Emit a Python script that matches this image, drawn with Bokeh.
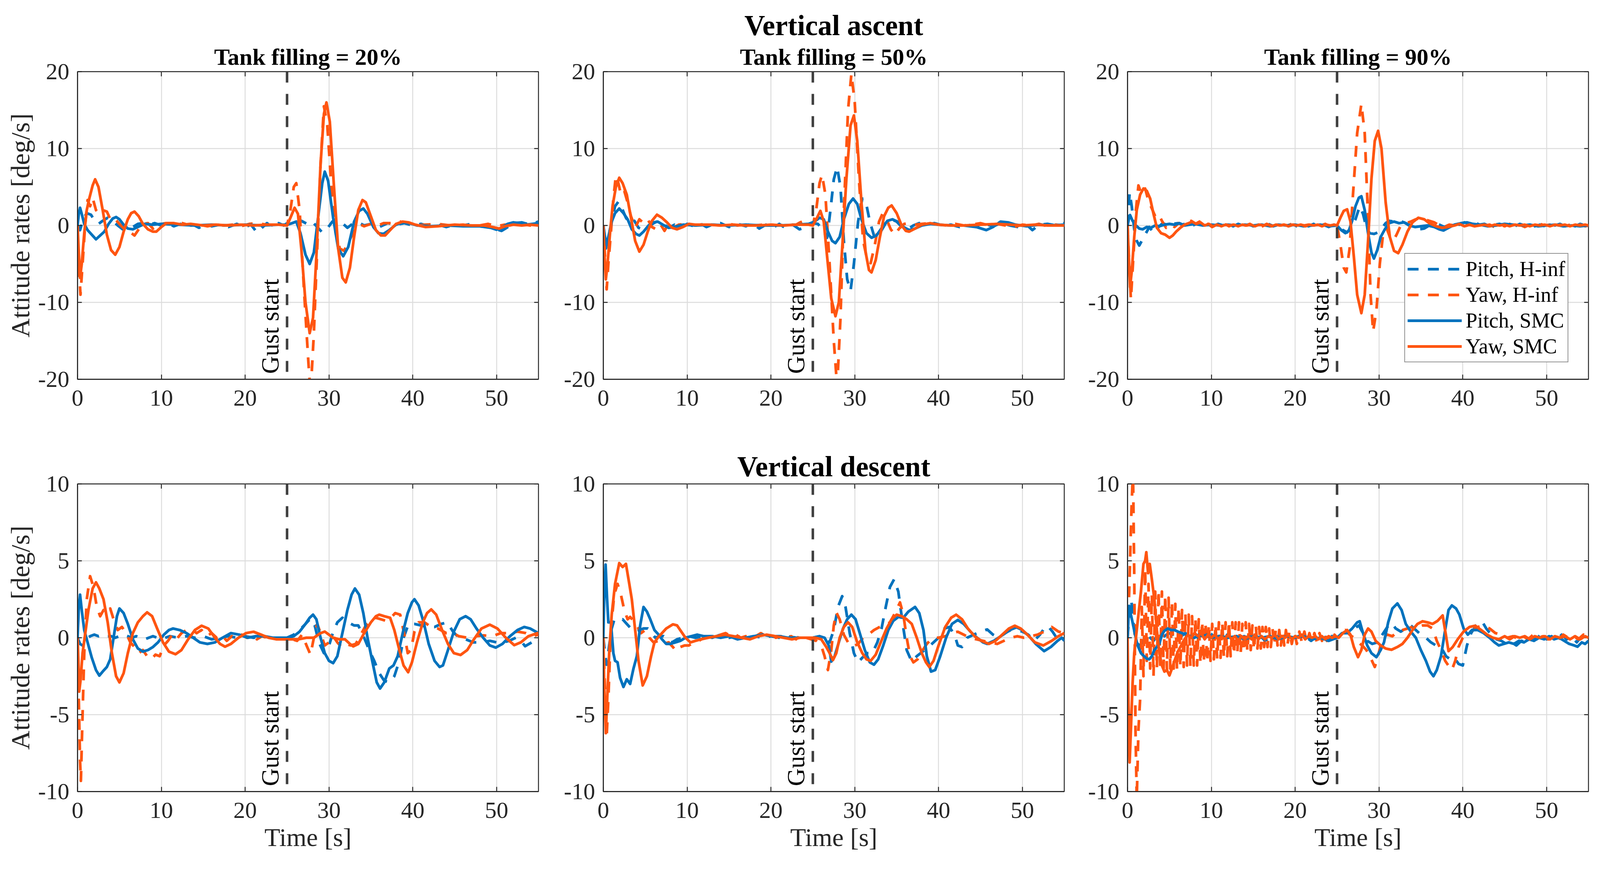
import math
from bokeh.plotting import figure
from bokeh.models import Range1d, FixedTicker, Span, Label, Title, Legend, LegendItem
from bokeh.layouts import row, column
from bokeh.embed import file_html
from bokeh.resources import INLINE

FONT = "Liberation Serif"
BLUE = "#0072BD"
ORANGE = "#FF5511"
INK = "#262626"

# ---------------- axes / labels ----------------
x_ticks = [0, 10, 20, 30, 40, 50]
x_tick_labels = ["0", "10", "20", "30", "40", "50"]
asc_y_ticks = [-20, -10, 0, 10, 20]
asc_y_tick_labels = ["-20", "-10", "0", "10", "20"]
desc_y_ticks = [-10, -5, 0, 5, 10]
desc_y_tick_labels = ["-10", "-5", "0", "5", "10"]
panel_titles = ["Tank filling = 20%", "Tank filling = 50%", "Tank filling = 90%"]
row_titles = ["Vertical ascent", "Vertical descent"]
series_names = ["Pitch, H-inf", "Yaw, H-inf", "Pitch, SMC", "Yaw, SMC"]
gust_time = 25
x_label = "Time [s]"
y_label = "Attitude rates [deg/s]"

# ---------------- data: (time [s], rate [deg/s]) ----------------
# Vertical ascent, 20 %
asc20_pitch_hinf = [(0,0),(0.3,-0.6),(0.7,0.9),(1.1,1.6),(1.6,1.4),(2.0,0.7),(2.5,0.2),(3.0,0.6),(3.6,1.0),(4.2,0.6),(4.8,0.0),(5.4,-0.5),(6.0,-0.5),(6.6,-0.2),(7.2,0.2),(7.8,0.3),(8.5,0.1),(9.2,0.3),(10,0.0),(10.8,0.2),(11.5,-0.1),(12.3,0.2),(13,-0.2),(13.8,0.1),(14.5,-0.3),(15.2,0.2),(16,-0.1),(17,0.1),(18,-0.2),(19,0.2),(20,-0.2),(20.7,0.1),(21.4,-0.9),(22,-0.3),(22.6,0.3),(23.2,-0.2),(24,0.3),(24.6,0.0),(25.3,0.5),(26,0.3),(26.7,0.6),(27.4,0.2),(28.0,0.5),(28.6,-0.2),(29.2,-0.9),(29.8,-0.4),(30.4,0.5),(31.0,0.8),(31.6,0.3),(32.2,-0.3),(32.8,0.2),(33.5,0.4),(34.2,0.0),(35,0.2),(36,-0.2),(37,0.3),(38,0.1),(39,0.3),(40,0.0),(41,0.2),(42,-0.1),(43,0.1),(44,-0.2),(45,0.1),(46,0.0),(47,0.2),(48,-0.1),(49,-0.2),(50,-0.5),(50.6,-0.7),(51.2,-0.3),(52,0.3),(53,0.4),(54,0.1),(55,0.5)]
asc20_yaw_hinf = [(0,0),(0.15,-5),(0.35,-9.0),(0.6,-5),(0.9,0),(1.2,3.3),(1.5,2.5),(1.8,3.6),(2.2,2.0),(2.6,1.5),(3.0,2.0),(3.5,1.8),(4.0,0.6),(4.5,0.8),(5.0,0.2),(5.6,-0.5),(6.2,-0.8),(6.8,-1.3),(7.3,-0.5),(7.8,0.2),(8.4,0.3),(9.0,-0.4),(9.6,0.1),(10.5,0.3),(11.5,0.1),(12.5,0.3),(13.5,0.0),(14.5,0.1),(15.5,-0.1),(16.5,0.1),(17.5,0.0),(18.5,0.1),(19.5,-0.1),(20.5,0.2),(21.5,0.3),(22.5,0.1),(23.5,0.0),(24.5,0.1),(25.0,0.0),(25.4,2.0),(25.8,5.0),(26.1,5.5),(26.5,2.0),(27.0,-8),(27.5,-17),(27.8,-22),(28.2,-14),(28.6,-3),(29.0,8),(29.4,15.5),(29.8,13),(30.3,5),(30.8,-1),(31.3,-3.0),(31.8,-3.3),(32.4,-2),(33.0,-0.8),(33.6,0.2),(34.2,-0.1),(35.0,0.2),(35.7,-0.1),(36.5,0.3),(37.5,0.3),(38.5,0.5),(39.5,0.3),(40.5,0.0),(41.5,0.1),(43,0.2),(44.5,0.0),(46,0.1),(47.5,-0.1),(49,0.2),(50,-0.1),(51,0.1),(52,0.0),(53,0.2),(54,0.0),(55,0.1)]
asc20_pitch_smc = [(0,0),(0.15,1.5),(0.3,2.3),(0.5,1.5),(0.8,0.2),(1.2,-0.6),(1.7,-1.2),(2.2,-1.8),(2.7,-1.3),(3.2,-0.8),(3.7,0.2),(4.2,0.9),(4.6,1.1),(5.0,0.8),(5.5,0.1),(6.0,-0.4),(6.6,-0.5),(7.2,-0.2),(8,0.2),(9,0.1),(10,0.2),(12,0.1),(14,0.0),(16,0.1),(18,0.0),(20,0.1),(22,0.0),(24,0.1),(25,0.1),(25.6,0.3),(26.1,0.5),(26.6,-1.0),(27.2,-3.8),(27.7,-5.0),(28.2,-3.5),(28.7,1.0),(29.2,5.5),(29.5,7.0),(29.9,5.8),(30.5,1.0),(31.1,-3.0),(31.7,-4.0),(32.3,-2.8),(33.0,0.5),(33.6,1.9),(34.1,2.2),(34.6,1.5),(35.3,-0.2),(35.9,-1.0),(36.5,-1.1),(37.2,-0.6),(38.0,0.1),(38.8,0.4),(39.6,0.3),(40.5,0.0),(42,-0.1),(44,0.0),(46,-0.1),(48,-0.1),(49.3,-0.3),(50.0,-0.55),(50.6,-0.3),(51.3,0.2),(52.0,0.4),(52.7,0.3),(53.5,0.1),(54.3,0.2),(55,0.3)]
asc20_yaw_smc = [(0,0),(0.15,-3.5),(0.3,-6.8),(0.5,-5),(0.8,-1),(1.1,2.0),(1.4,3.5),(1.8,5.2),(2.1,6.0),(2.5,5.0),(3.0,2.0),(3.5,-1.2),(4.0,-3.2),(4.5,-3.8),(5.0,-2.8),(5.5,-0.8),(6.0,0.8),(6.4,1.6),(6.8,1.8),(7.3,1.2),(7.8,0.2),(8.4,-0.5),(9.0,-0.8),(9.4,-0.8),(10,-0.2),(10.6,0.3),(11.5,0.3),(12.5,0.1),(13.5,0.2),(15,0.0),(16.5,0.1),(18,0.0),(19.5,0.1),(21,0.0),(22.5,0.1),(24,0.1),(25,0.0),(25.4,1.0),(25.9,2.3),(26.3,1.5),(26.7,-3.0),(27.2,-10),(27.7,-14.0),(28.1,-12),(28.5,-4),(29.0,8),(29.4,14.5),(29.7,16.0),(30.1,13.5),(30.6,5),(31.1,-3),(31.6,-6.8),(32.0,-7.4),(32.5,-5.5),(33.0,-1.5),(33.5,2.0),(34.0,3.3),(34.4,3.0),(35.0,1.2),(35.6,-0.6),(36.2,-1.3),(36.7,-1.3),(37.3,-0.6),(38.0,0.2),(38.8,0.5),(39.5,0.4),(40.3,0.1),(41.5,-0.2),(43,-0.1),(45,0.1),(47,0.0),(48.5,0.0),(49.5,-0.2),(50.3,-0.4),(51,-0.1),(52,0.1),(53,0.0),(54,0.1),(55,0.0)]

# Vertical ascent, 50 %
asc50_pitch_hinf = [(0,0),(0.3,-3.0),(0.6,-1.5),(1.0,0.5),(1.4,2.5),(1.8,3.1),(2.2,2.3),(2.7,1.0),(3.2,0.2),(3.7,0.6),(4.2,-0.3),(4.8,-0.6),(5.4,-0.2),(6.0,0.3),(6.6,0.6),(7.2,0.2),(7.8,-0.3),(8.5,0.1),(9.2,-0.3),(10,0.2),(10.8,-0.1),(11.5,0.3),(12.3,-0.2),(13,0.1),(14,0.3),(15,-0.2),(16,0.2),(17,-0.1),(17.8,0.3),(18.6,-0.4),(19.4,0.1),(20.2,-0.3),(21,0.2),(21.8,-0.4),(22.6,0.1),(23.4,-0.5),(24.2,-0.2),(25,0.3),(25.6,0.2),(26.2,-0.6),(26.7,-1.6),(27.1,2.0),(27.5,6.0),(27.9,7.6),(28.3,5.0),(28.7,-2.0),(29.1,-7.0),(29.5,-8.5),(29.9,-5.0),(30.4,0.5),(30.9,3.5),(31.3,3.2),(31.8,0.5),(32.4,-1.7),(33.0,-1.0),(33.7,0.3),(34.4,0.8),(35.0,0.5),(35.7,-0.3),(36.3,-0.5),(37.0,0.0),(37.7,0.3),(38.5,0.1),(39.5,0.3),(40.5,0.0),(41.5,0.1),(42.5,-0.2),(43.5,0.1),(44.5,-0.2),(45.5,0.2),(46.5,-0.1),(47.5,0.3),(48.5,0.0),(49.5,-0.2),(50.5,0.1),(51.2,-0.6),(52,0.1),(53,0.2),(54,0.0),(55,0.3)]
asc50_yaw_hinf = [(0,0),(0.2,-4),(0.4,-8.3),(0.6,-5),(0.9,-1),(1.2,3.5),(1.5,6.5),(1.8,5.5),(2.1,4.0),(2.5,4.5),(2.9,3.0),(3.3,1.2),(3.8,-0.3),(4.3,0.8),(4.8,0.3),(5.3,0.8),(5.8,-0.2),(6.3,-0.5),(6.8,0.2),(7.3,-0.7),(7.8,0.3),(8.3,-0.3),(9,0.1),(10,0.2),(11,0.0),(12,0.2),(13,0.1),(14,0.0),(15,0.2),(16,0.0),(17,0.1),(18,0.0),(19,0.1),(20,0.1),(21,0.0),(22,0.1),(23,0.1),(23.5,0.4),(24.0,0.6),(24.5,0.3),(25.0,0.0),(25.4,2.0),(25.8,5.5),(26.1,6.6),(26.5,4.0),(27.0,-5),(27.5,-15),(27.9,-21),(28.3,-12),(28.7,2),(29.2,15),(29.6,19.7),(30.0,16),(30.5,6),(31.0,-2),(31.5,-4.5),(31.9,-4.9),(32.4,-2.5),(32.9,0.5),(33.3,1.5),(33.8,0.8),(34.3,-0.5),(34.8,-1.2),(35.3,-0.4),(35.9,0.2),(36.5,0.3),(37.2,0.1),(38,0.2),(39,0.3),(40,0.1),(41,0.0),(42,0.2),(43,0.0),(44,0.1),(45,0.3),(46,0.0),(47,0.2),(48,0.0),(49,-0.2),(50,0.1),(51,0.0),(52,0.2),(53,-0.1),(54,0.1),(55,0.0)]
asc50_pitch_smc = [(0,0),(0.2,-1.5),(0.4,-2.5),(0.7,-1.0),(1.0,0.5),(1.4,1.6),(1.9,2.2),(2.4,1.6),(2.9,0.8),(3.4,-0.5),(3.9,-1.1),(4.3,-1.3),(4.8,-0.8),(5.4,0.0),(6.0,0.4),(6.5,0.5),(7.1,0.1),(7.8,-0.3),(8.5,-0.2),(9.5,0.1),(11,0.0),(13,0.1),(15,0.0),(17,0.1),(19,0.0),(21,0.0),(23,0.1),(24.5,0.2),(25.2,0.5),(25.8,1.0),(26.3,0.8),(26.8,-0.8),(27.3,-2.0),(27.7,-2.3),(28.2,-1.5),(28.7,0.8),(29.3,2.8),(29.8,3.5),(30.3,2.8),(30.8,0.8),(31.4,-1.0),(32.0,-1.6),(32.6,-1.3),(33.3,-0.2),(33.9,0.6),(34.5,0.8),(35.1,0.5),(35.8,-0.2),(36.5,-0.6),(37.2,-0.4),(38,0.0),(39,0.2),(40,0.1),(41.5,0.0),(43,0.0),(44.5,-0.2),(45.7,-0.6),(46.5,-0.2),(47.4,0.5),(48.3,0.4),(49.2,0.1),(50.5,-0.1),(52,0.1),(53.5,0.0),(55,0.1)]
asc50_yaw_smc = [(0,0),(0.15,-4),(0.3,-7.0),(0.5,-5),(0.8,-1),(1.1,2.5),(1.5,5.0),(1.9,6.2),(2.3,5.5),(2.8,4.0),(3.3,1.0),(3.8,-2.0),(4.3,-3.4),(4.8,-2.5),(5.3,-0.8),(5.8,0.6),(6.4,1.4),(7.0,1.0),(7.6,0.4),(8.2,-0.3),(8.8,-0.5),(9.5,-0.2),(10.2,0.2),(11,0.1),(12.5,0.1),(14,0.0),(15.5,0.1),(17,0.0),(18.5,0.0),(20,0.1),(21.5,0.0),(23,0.1),(24.5,0.1),(25.0,0.0),(25.5,1.0),(25.9,1.9),(26.3,0.5),(26.7,-4),(27.2,-9.5),(27.7,-11.8),(28.1,-10),(28.5,-3),(29.0,6),(29.5,13),(29.9,14.3),(30.3,11),(30.8,3),(31.3,-3.5),(31.7,-5.8),(32.0,-6.1),(32.5,-4.5),(33.0,-1.5),(33.5,1.2),(34.0,2.3),(34.4,2.6),(35.0,1.6),(35.6,0.0),(36.1,-0.7),(36.5,-0.8),(37.2,-0.4),(38,0.1),(39,0.3),(40,0.1),(41.5,0.0),(43,0.0),(45,0.1),(47,0.2),(48.5,0.1),(50,0.0),(51.5,0.1),(53,0.0),(55,0.0)]

# Vertical ascent, 90 %
asc90_pitch_hinf = [(0,0),(0.25,4.3),(0.5,2.5),(0.8,-0.5),(1.1,-2.0),(1.4,-2.6),(1.8,-1.8),(2.2,-1.0),(2.6,-0.2),(3.0,-0.8),(3.3,-1.0),(3.7,-0.2),(4.2,0.3),(4.8,0.0),(5.4,0.2),(6.0,0.3),(6.6,0.1),(7.2,0.4),(7.8,0.0),(8.4,0.3),(9.0,0.1),(9.6,0.3),(10.2,-0.1),(10.8,0.2),(11.4,0.0),(12,0.2),(12.6,-0.1),(13.2,0.2),(13.8,0.0),(14.4,0.2),(15,-0.1),(15.6,0.1),(16.2,-0.1),(16.8,0.2),(17.4,-0.1),(18,0.1),(18.6,0.3),(19.2,-0.1),(19.8,0.1),(20.4,-0.2),(21,0.1),(21.6,-0.1),(22.2,0.2),(22.8,-0.2),(23.4,0.1),(24,-0.2),(24.6,0.1),(25.2,-0.2),(25.7,-0.6),(26.2,-0.9),(26.7,-0.2),(27.2,0.8),(27.7,2.5),(28.1,1.5),(28.5,-0.3),(28.9,-1.0),(29.4,-1.1),(29.9,-0.9),(30.4,-0.3),(30.8,0.3),(31.2,0.6),(31.8,0.5),(32.4,0.6),(33.0,0.4),(33.6,0.1),(34.2,-0.3),(34.8,-0.5),(35.4,-0.4),(36.0,0.0),(36.6,0.3),(37.2,0.1),(37.8,-0.2),(38.4,0.1),(39,0.3),(39.6,0.1),(40.2,0.4),(40.8,0.2),(41.4,0.4),(42,0.1),(42.6,0.2),(43.2,-0.1),(43.8,0.1),(44.4,0.2),(45,0.0),(45.6,0.2),(46.2,-0.1),(46.8,0.2),(47.4,0.0),(48,0.2),(48.6,-0.1),(49.2,0.1),(49.8,-0.1),(50.4,0.2),(51,0.0),(51.6,0.2),(52.2,-0.1),(52.8,0.1),(53.4,-0.1),(54,0.2),(54.6,0.0),(55,0.1)]
asc90_yaw_hinf = [(0,0),(0.2,-5),(0.4,-9.6),(0.7,-4),(1.0,2.0),(1.3,5.2),(1.7,4.0),(2.1,4.8),(2.5,3.2),(2.9,2.2),(3.3,1.2),(3.7,1.5),(4.1,0.6),(4.6,-0.3),(5.1,0.2),(5.6,-0.2),(6.1,0.3),(6.6,0.0),(7.1,0.3),(7.6,0.6),(8.1,0.2),(8.6,0.5),(9.1,0.0),(9.6,0.2),(10.1,-0.2),(10.6,0.1),(11.1,-0.1),(11.6,0.2),(12.1,-0.1),(12.6,0.1),(13.1,-0.2),(13.6,0.1),(14.1,0.0),(14.6,0.2),(15.1,-0.1),(15.6,0.1),(16.1,-0.1),(16.6,0.2),(17.1,0.0),(17.6,0.1),(18.1,-0.1),(18.6,0.1),(19.1,0.0),(19.6,0.2),(20.1,-0.1),(20.6,0.1),(21.1,0.0),(21.6,0.1),(22.1,-0.1),(22.6,0.1),(23.1,0.0),(23.6,0.2),(24.1,-0.1),(24.6,0.1),(25.0,0.0),(25.4,-2.5),(25.8,-5.5),(26.1,-6.1),(26.5,-3),(26.9,4),(27.4,12),(27.9,15.8),(28.3,12),(28.7,1),(29.0,-9),(29.3,-13.8),(29.7,-11),(30.1,-5),(30.5,-1.0),(30.9,-0.3),(31.3,-1.5),(31.7,-2.0),(32.1,-1.2),(32.6,0.0),(33.2,0.3),(33.8,0.5),(34.4,0.8),(35.0,1.0),(35.5,0.8),(36.0,0.6),(36.6,0.4),(37.2,0.0),(37.8,-0.2),(38.4,0.1),(39,0.0),(39.6,0.2),(40.2,-0.1),(40.8,0.1),(41.4,-0.1),(42,0.2),(42.6,0.0),(43.2,0.1),(43.8,-0.2),(44.4,0.1),(45,-0.1),(45.6,0.2),(46.2,-0.1),(46.8,0.1),(47.4,-0.2),(48,0.1),(48.6,-0.1),(49.2,0.2),(49.8,0.0),(50.4,0.1),(51,-0.2),(51.6,0.1),(52.2,-0.1),(52.8,0.1),(53.4,-0.1),(54,0.1),(54.6,-0.1),(55,0.0)]
asc90_pitch_smc = [(0,0),(0.15,0.8),(0.3,1.35),(0.6,0.6),(1.0,0.0),(1.4,-0.4),(1.8,-0.5),(2.3,-0.2),(2.8,-0.3),(3.3,0.0),(3.8,-0.1),(4.4,0.1),(5.0,0.2),(5.6,0.1),(6.2,0.3),(6.8,0.0),(7.4,0.1),(8,0.2),(9,0.0),(10,0.1),(11,0.0),(12,0.1),(13,0.0),(14,0.1),(15,0.0),(16,0.1),(17,-0.1),(18,0.1),(19,0.0),(20,0.1),(21,-0.1),(22,0.0),(23,0.1),(24,-0.1),(25,0.0),(25.5,-0.6),(26.0,-1.0),(26.4,-0.7),(26.8,0.6),(27.2,2.5),(27.6,3.6),(27.9,3.8),(28.3,2.0),(28.7,-1.0),(29.1,-3.5),(29.4,-4.3),(29.8,-3.2),(30.2,-1.5),(30.7,-0.5),(31.2,0.3),(31.8,0.5),(32.4,0.3),(33.0,0.4),(33.6,0.0),(34.3,-0.2),(35.0,-0.1),(35.8,0.0),(36.6,-0.2),(37.2,-0.5),(37.7,-0.65),(38.3,-0.3),(39,0.1),(39.8,0.3),(40.5,0.4),(41.2,0.2),(42,0.1),(43,-0.1),(44,0.0),(45,0.2),(46,0.1),(47,0.0),(48,0.1),(49,-0.1),(50,0.0),(51,0.1),(52,-0.1),(53,0.0),(54,-0.1),(55,0.0)]
asc90_yaw_smc = [(0,0),(0.15,-4),(0.3,-8.0),(0.5,-6),(0.8,-1.5),(1.1,2.0),(1.5,4.0),(1.9,4.8),(2.3,4.5),(2.7,3.5),(3.1,1.5),(3.5,-0.3),(4.0,-1.0),(4.5,-1.2),(5.0,-1.6),(5.4,-1.3),(5.8,-0.8),(6.3,-0.3),(6.8,0.1),(7.3,0.3),(7.7,0.5),(8.2,0.2),(8.7,0.4),(9.2,0.0),(9.7,0.2),(10.2,-0.1),(10.7,0.1),(11.2,-0.1),(11.7,0.1),(12.2,0.0),(12.7,0.1),(13.2,-0.1),(13.7,0.1),(14.2,0.0),(14.7,0.1),(15.2,-0.1),(15.7,0.1),(16.2,0.0),(16.7,0.1),(17.2,-0.1),(17.7,0.1),(18.2,0.0),(18.7,0.1),(19.2,-0.1),(19.7,0.1),(20.2,0.0),(20.7,0.1),(21.2,-0.1),(21.7,0.1),(22.2,0.0),(22.7,0.1),(23.2,-0.1),(23.7,0.1),(24.2,0.0),(24.7,0.1),(25.0,0.0),(25.4,1.0),(25.8,1.9),(26.2,2.1),(26.6,0.5),(27.0,-4),(27.4,-9),(27.9,-11.4),(28.3,-9),(28.7,-2),(29.1,6),(29.5,11),(29.9,12.3),(30.3,10),(30.8,3),(31.3,-1.5),(31.8,-3.3),(32.3,-3.6),(32.8,-2.5),(33.4,-0.8),(34.0,0.4),(34.7,1.0),(35.4,0.8),(36.0,0.3),(36.8,-0.1),(37.5,-0.3),(38.2,-0.2),(39,0.0),(39.6,0.2),(40.2,-0.1),(40.8,0.1),(41.4,-0.1),(42,0.0),(42.6,0.1),(43.2,-0.1),(43.8,0.1),(44.4,0.0),(45,0.1),(45.6,-0.1),(46.2,0.1),(46.8,0.0),(47.4,0.1),(48,-0.1),(48.6,0.1),(49.2,0.0),(49.8,0.1),(50.4,-0.1),(51,0.1),(51.6,0.0),(52.2,0.1),(52.8,-0.1),(53.4,0.1),(54,0.0),(54.6,0.1),(55,0.0)]

# Vertical descent, 20 %
desc20_pitch_hinf = [(0,0),(0.3,-0.4),(0.6,-0.5),(1.0,-0.1),(1.5,0.1),(2.0,0.2),(2.5,0.1),(3.0,0.2),(3.5,0.1),(4.0,0.1),(4.5,0.0),(5.0,0.1),(5.5,0.2),(6.0,0.1),(6.5,0.0),(7.0,0.1),(7.5,0.0),(8.0,-0.1),(8.5,0.0),(9.0,0.1),(9.5,0.0),(10,-0.1),(11,0.1),(12,0.0),(13,0.1),(14,0.0),(15,0.1),(16,-0.1),(17,0.0),(18,0.1),(19,0.0),(20,0.1),(21,0.0),(22,0.1),(23,0.0),(24,0.0),(25,0.0),(25.8,0.2),(26.5,0.5),(27.2,0.9),(27.8,1.25),(28.3,0.8),(28.8,-0.3),(29.4,-1.0),(29.9,-0.7),(30.4,0.2),(31.0,1.0),(31.6,1.3),(32.3,1.0),(33.0,0.8),(33.5,0.8),(34.2,0.0),(34.8,-0.8),(35.4,-1.5),(36.0,-2.3),(36.6,-2.8),(37.2,-2.9),(37.8,-2.5),(38.4,-1.5),(38.9,0.0),(39.5,0.9),(40.2,0.9),(41.0,0.8),(41.8,0.7),(42.6,0.7),(43.4,0.9),(44.1,1.0),(44.8,0.4),(45.5,0.0),(46.3,-0.1),(47.2,-0.3),(48.2,-0.3),(49.2,-0.2),(50.0,-0.3),(50.8,-0.3),(51.5,-0.2),(52.3,0.0),(52.9,-0.2),(53.4,-0.55),(54.2,-0.3),(55,-0.1)]
desc20_yaw_hinf = [(0,0),(0.15,-4),(0.3,-8),(0.4,-9.3),(0.55,-6),(0.8,-1),(1.1,2.5),(1.5,4.0),(1.9,3.3),(2.3,2.0),(2.7,1.4),(3.1,1.8),(3.5,1.6),(3.9,1.9),(4.3,1.2),(4.8,0.5),(5.3,0.7),(5.8,0.3),(6.3,-0.3),(6.8,-0.6),(7.3,-1.0),(7.8,-0.8),(8.3,-1.2),(8.8,-1.4),(9.3,-1.1),(9.8,-1.2),(10.3,-0.5),(10.8,-0.2),(11.3,0.2),(11.8,-0.1),(12.4,0.3),(13.0,0.5),(13.6,0.6),(14.2,0.3),(14.8,0.5),(15.4,0.1),(16.0,0.3),(16.6,0.0),(17.2,0.2),(17.8,-0.2),(18.4,0.1),(19.0,-0.1),(19.6,0.2),(20.2,0.0),(20.8,0.2),(21.4,-0.1),(22.0,0.1),(22.6,0.0),(23.2,0.1),(23.8,-0.1),(24.4,0.0),(25.0,0.0),(25.6,-0.1),(26.2,-0.2),(26.8,0.2),(27.4,-0.6),(27.8,-1.1),(28.2,0.0),(28.6,0.9),(29.0,0.3),(29.5,-0.5),(30.0,-0.3),(30.5,0.1),(31.0,-0.3),(31.5,-0.6),(32.0,-0.4),(32.6,-0.5),(33.2,-0.4),(33.8,0.2),(34.4,0.8),(35.0,1.2),(35.6,1.3),(36.2,1.2),(36.8,1.1),(37.4,1.3),(37.9,1.6),(38.5,1.5),(39.0,0.2),(39.4,-1.0),(39.8,-0.8),(40.2,0.4),(40.7,1.0),(41.4,1.0),(42.2,0.7),(43.0,0.6),(44.0,0.3),(44.8,0.3),(45.5,0.1),(46.5,0.0),(47.5,0.1),(48.5,0.15),(49.5,0.1),(50.5,0.3),(51.5,0.3),(52.5,0.4),(53.5,0.3),(54.3,0.1),(55,0.2)]
desc20_pitch_smc = [(0,0),(0.15,2.0),(0.3,2.8),(0.5,1.8),(0.8,0.5),(1.2,-0.3),(1.7,-1.3),(2.2,-2.1),(2.6,-2.46),(3.0,-2.2),(3.5,-1.9),(3.9,-1.4),(4.3,0.0),(4.7,1.4),(5.0,1.9),(5.5,1.6),(6.0,0.9),(6.6,-0.1),(7.2,-0.7),(7.8,-0.9),(8.4,-0.8),(9.0,-0.6),(9.6,-0.3),(10.3,0.2),(10.9,0.5),(11.4,0.6),(12.2,0.5),(13.0,0.3),(13.8,0.0),(14.6,-0.3),(15.5,-0.4),(16.4,-0.3),(17.3,0.0),(18.3,0.3),(19.3,0.2),(20.3,0.0),(21.3,0.1),(22.3,0.1),(23.3,0.0),(24.3,0.0),(25.0,0.0),(25.8,0.1),(26.5,0.4),(27.2,0.9),(27.7,1.3),(28.1,1.5),(28.5,1.2),(29.0,0.0),(29.5,-1.0),(30.0,-1.5),(30.5,-1.65),(31.0,-1.2),(31.6,0.3),(32.2,1.8),(32.7,2.8),(33.1,3.2),(33.6,2.8),(34.1,1.6),(34.6,0.0),(35.2,-1.6),(35.7,-2.9),(36.1,-3.3),(36.6,-2.9),(37.2,-2.0),(37.7,-1.8),(38.2,-1.2),(38.8,0.3),(39.4,1.6),(39.9,2.3),(40.2,2.5),(40.7,2.1),(41.3,1.0),(41.9,-0.4),(42.6,-1.5),(43.2,-1.9),(43.6,-1.8),(44.2,-0.8),(44.9,0.4),(45.6,1.2),(46.3,1.4),(46.9,1.2),(47.6,0.6),(48.4,0.0),(49.2,-0.5),(49.9,-0.64),(50.7,-0.4),(51.6,0.1),(52.5,0.5),(53.3,0.7),(54.0,0.6),(55,0.3)]
desc20_yaw_smc = [(0,0),(0.1,-1.5),(0.2,-3.5),(0.35,-2.8),(0.6,-1.0),(0.9,0.2),(1.3,1.8),(1.8,3.2),(2.2,3.6),(2.6,3.2),(3.1,2.5),(3.6,1.0),(4.1,-1.0),(4.6,-2.5),(5.0,-2.9),(5.5,-2.3),(6.0,-1.0),(6.6,0.3),(7.2,1.0),(7.8,1.4),(8.3,1.65),(8.9,1.4),(9.5,0.6),(10.2,-0.3),(10.9,-0.9),(11.7,-1.07),(12.4,-0.8),(13.2,-0.1),(14.0,0.5),(14.8,0.78),(15.6,0.6),(16.4,0.0),(17.0,-0.4),(17.6,-0.58),(18.3,-0.4),(19.2,0.0),(20.1,0.3),(21.0,0.39),(21.9,0.2),(22.8,0.0),(23.7,-0.1),(24.6,-0.1),(25.5,-0.1),(26.4,-0.1),(27.3,0.0),(28.2,0.0),(29.0,0.3),(29.5,0.4),(30.0,0.2),(30.5,0.0),(31.2,-0.1),(31.9,-0.1),(32.5,-0.4),(32.9,-0.56),(33.5,-0.4),(34.2,0.3),(35.0,1.0),(35.6,1.4),(36.0,1.5),(36.6,1.4),(37.3,1.3),(37.8,0.5),(38.4,-0.8),(38.9,-1.8),(39.45,-2.24),(39.9,-1.6),(40.5,-0.3),(41.2,1.0),(41.7,1.6),(42.2,1.84),(42.8,1.5),(43.5,0.5),(44.2,-0.4),(44.9,-1.0),(45.7,-1.12),(46.5,-0.8),(47.3,-0.1),(48.2,0.6),(49.2,0.85),(50.1,0.6),(51.1,0.0),(52.1,-0.48),(52.9,-0.3),(53.8,0.1),(55,0.32)]

# Vertical descent, 50 %
desc50_pitch_hinf = [(0,0),(0.2,-1.0),(0.4,-1.75),(0.7,-0.5),(1.0,0.6),(1.3,1.16),(1.8,1.1),(2.3,1.2),(2.8,0.9),(3.3,0.6),(3.8,0.4),(4.3,0.5),(4.8,0.6),(5.3,0.6),(5.8,0.3),(6.2,0.0),(6.7,0.1),(7.2,0.1),(7.7,-0.2),(8.2,-0.3),(8.8,-0.1),(9.5,0.0),(10.2,0.1),(11,0.0),(12,0.1),(13,0.0),(14,0.2),(15,0.0),(16,0.1),(17,0.0),(18,0.1),(19,0.0),(20,0.1),(21,0.0),(22,0.1),(23,0.0),(24,0.0),(25,0.0),(25.8,0.1),(26.5,-0.1),(27.0,-0.3),(27.5,0.5),(28.0,2.0),(28.5,2.7),(28.9,2.0),(29.4,0.3),(29.9,-1.0),(30.4,-1.6),(30.9,-1.3),(31.5,-1.0),(32.1,-1.0),(32.7,-0.3),(33.2,0.6),(33.7,2.0),(34.2,3.3),(34.7,3.8),(35.2,3.0),(35.7,1.0),(36.2,-0.8),(36.8,-1.55),(37.4,-1.2),(38.1,-0.9),(38.8,-0.6),(39.4,-0.3),(40.0,0.0),(40.7,0.6),(41.3,0.7),(41.9,0.2),(42.3,-0.5),(42.8,-0.6),(43.4,0.0),(44.2,0.2),(45.0,0.4),(45.8,0.54),(46.5,0.2),(47.2,0.0),(47.9,0.3),(48.6,0.5),(49.3,0.5),(50.0,0.4),(50.7,0.2),(51.4,-0.2),(52.1,0.2),(52.6,0.6),(53.0,0.78),(53.6,0.4),(54.2,-0.1),(55,-0.2)]
desc50_yaw_hinf = [(0,0),(0.2,-3.5),(0.4,-6.4),(0.6,-4.0),(0.9,0.5),(1.3,2.8),(1.7,3.5),(2.1,2.8),(2.5,1.8),(2.9,1.2),(3.2,1.35),(3.6,1.1),(4.0,0.8),(4.5,0.3),(5.0,0.5),(5.5,0.0),(6.0,-0.3),(6.6,-0.2),(7.2,-0.4),(7.8,-0.3),(8.3,-0.6),(8.7,-0.87),(9.2,-0.6),(9.7,-0.5),(10.2,-0.5),(10.8,-0.3),(11.4,-0.2),(12.0,0.0),(12.7,0.1),(13.4,0.0),(14.0,0.2),(14.6,0.3),(15.2,0.1),(15.8,0.2),(16.4,0.0),(17.0,0.1),(17.6,-0.1),(18.2,0.1),(18.8,0.3),(19.4,0.1),(20.0,0.2),(20.6,0.0),(21.2,0.1),(21.8,-0.1),(22.4,0.1),(23.0,-0.1),(23.6,0.2),(24.2,0.0),(24.8,-0.1),(25.4,-0.2),(26.0,-0.5),(26.4,-1.2),(26.8,-2.1),(27.2,-0.8),(27.5,0.8),(27.8,1.65),(28.2,1.2),(28.7,0.2),(29.2,-0.3),(29.8,-0.58),(30.4,-0.4),(31.0,0.0),(31.6,0.2),(32.3,0.5),(32.9,0.68),(33.6,0.8),(34.2,1.0),(34.8,1.6),(35.4,2.3),(35.8,1.5),(36.2,0.0),(36.6,-1.2),(37.0,-1.6),(37.5,-1.4),(38.0,-0.9),(38.6,-0.4),(39.3,0.0),(40.0,0.0),(40.8,0.1),(41.5,0.3),(42.3,0.39),(43.0,0.2),(43.7,0.0),(44.5,-0.1),(45.3,-0.2),(46.1,-0.3),(47.0,-0.4),(47.8,-0.2),(48.6,0.0),(49.4,0.1),(50.2,0.0),(51.0,0.1),(51.8,0.2),(52.6,0.4),(53.5,0.7),(54.3,0.4),(55,0.3)]
desc50_pitch_smc = [(0,0),(0.1,2.5),(0.27,4.75),(0.45,2.5),(0.6,1.0),(0.9,1.0),(1.2,-1.0),(1.4,-1.5),(1.7,-1.6),(2.0,-2.6),(2.4,-3.2),(2.8,-2.7),(3.2,-3.0),(3.6,-2.0),(4.0,-1.2),(4.4,0.8),(4.8,2.0),(5.2,1.7),(5.6,1.2),(6.1,0.5),(6.6,0.2),(7.0,-0.1),(7.5,-0.4),(8.0,-0.4),(8.6,-0.3),(9.2,-0.2),(9.8,0.0),(10.5,0.1),(11.2,0.2),(12.0,0.1),(13,0.1),(14,0.0),(15,0.1),(16,-0.1),(17,0.0),(18,0.1),(19,0.2),(20,0.1),(21,0.1),(22,0.0),(23,0.0),(24,0.0),(25,0.0),(25.8,0.1),(26.4,0.0),(26.9,-0.5),(27.2,-1.55),(27.6,-1.2),(28.1,-0.3),(28.6,0.6),(29.1,1.2),(29.6,1.5),(30.1,1.2),(30.6,0.3),(31.2,-0.8),(31.8,-1.6),(32.3,-1.75),(32.8,-1.4),(33.4,-0.5),(34.0,0.5),(34.6,1.1),(35.2,1.35),(35.8,1.3),(36.4,1.7),(37.2,2.0),(37.7,1.6),(38.2,0.5),(38.6,-1.2),(39.1,-2.2),(39.6,-2.1),(40.2,-1.2),(40.9,0.0),(41.6,0.9),(42.3,1.16),(43.0,0.9),(43.8,0.4),(44.6,0.0),(45.3,-0.3),(45.8,-0.4),(46.6,-0.2),(47.7,0.2),(48.5,0.5),(49.3,0.68),(50.0,0.5),(50.8,0.1),(51.6,-0.4),(52.6,-0.87),(53.4,-0.6),(54.2,-0.2),(54.7,0.0),(55,-0.2)]
desc50_yaw_smc = [(0,0),(0.1,-3.0),(0.3,-6.2),(0.5,-3.5),(0.7,-1.0),(1.0,1.5),(1.4,3.5),(1.9,4.85),(2.3,4.6),(2.7,4.8),(3.1,3.5),(3.4,2.5),(3.8,0.5),(4.2,-1.5),(4.7,-3.1),(5.2,-2.5),(5.7,-1.2),(6.1,-0.3),(6.5,0.0),(7.0,0.3),(7.5,0.6),(8.3,0.87),(8.8,0.8),(9.3,0.4),(9.8,0.0),(10.4,-0.3),(11.0,-0.2),(11.7,-0.1),(12.5,0.0),(13.5,0.1),(14.5,0.2),(15.5,0.1),(16.5,0.0),(17.5,-0.1),(18.5,0.1),(19.5,0.2),(20.5,0.1),(21.5,0.0),(22.5,-0.1),(23.5,0.0),(24.5,0.0),(25.3,0.0),(26.0,-0.1),(26.6,-0.6),(27.0,-1.0),(27.4,-1.45),(27.8,-1.0),(28.2,0.0),(28.7,0.7),(29.2,1.0),(29.7,0.7),(30.3,-0.3),(30.9,-1.0),(31.4,-1.4),(31.9,-1.5),(32.5,-1.1),(33.1,-0.3),(33.8,0.6),(34.4,1.2),(35.0,1.5),(35.6,1.4),(36.2,1.2),(36.8,0.9),(37.4,0.0),(38.0,-1.0),(38.5,-1.6),(38.9,-1.9),(39.4,-1.5),(40.0,-0.5),(40.8,0.7),(41.5,1.3),(42.1,1.5),(42.8,1.2),(43.5,0.6),(44.3,0.1),(45.1,-0.2),(46.0,-0.4),(46.8,-0.2),(47.6,0.2),(48.4,0.6),(49.1,0.78),(49.8,0.6),(50.6,0.2),(51.5,-0.3),(52.5,-0.5),(53.5,-0.2),(54.3,0.1),(55,0.3)]

# Vertical descent, 90 %
desc90_pitch_hinf = [(0,0),(0.2,1.5),(0.45,2.45),(0.7,1.0),(0.9,0.0),(1.2,-0.4),(1.5,-0.5),(1.9,-0.2),(2.3,0.2),(2.7,0.0),(3.1,-0.2),(3.5,0.1),(3.9,0.3),(4.4,0.1),(4.9,0.3),(5.4,0.2),(5.9,0.4),(6.4,0.1),(6.9,0.3),(7.4,0.0),(7.9,0.2),(8.4,0.0),(8.9,0.2),(9.4,0.0),(9.9,0.3),(10.4,0.0),(10.9,0.1),(11.4,-0.1),(11.9,0.2),(12.4,0.0),(12.9,0.1),(13.4,-0.1),(13.9,0.1),(14.4,0.0),(14.9,0.2),(15.4,-0.1),(15.9,0.1),(16.4,-0.2),(16.9,0.0),(17.4,-0.2),(17.9,0.1),(18.4,-0.1),(18.9,0.1),(19.4,-0.1),(19.9,0.0),(20.4,0.1),(20.9,-0.1),(21.4,0.0),(21.9,-0.2),(22.4,0.0),(22.9,-0.2),(23.4,0.1),(23.9,-0.1),(24.4,0.1),(24.9,0.3),(25.4,0.2),(26.0,0.4),(26.6,0.2),(27.1,0.6),(27.6,0.8),(28.1,0.3),(28.6,-0.2),(29.2,-0.4),(29.8,-0.3),(30.4,0.2),(31.0,0.7),(31.5,0.97),(32.0,0.6),(32.6,0.4),(33.2,0.6),(33.8,0.8),(34.4,0.5),(35.0,0.2),(35.6,0.0),(36.2,-0.3),(36.8,-0.5),(37.4,-0.6),(38.0,-1.2),(38.5,-1.4),(39.0,-1.3),(39.5,-1.7),(40.0,-1.8),(40.5,-0.5),(41.0,0.3),(41.6,0.8),(42.3,1.07),(42.8,0.6),(43.4,0.2),(44.0,-0.1),(44.6,-0.2),(45.2,-0.4),(45.8,-0.3),(46.4,-0.5),(47.0,-0.2),(47.6,-0.3),(48.2,0.0),(48.8,-0.1),(49.4,0.3),(50.0,-0.1),(50.6,0.1),(51.2,-0.2),(51.8,0.2),(52.4,-0.1),(53.0,0.1),(53.6,-0.3),(54.2,0.1),(55,0.2)]
desc90_yaw_hinf = [(0,0),(0.2,3),(0.45,8),(0.65,11),(0.8,4),(0.95,-6),(1.1,-10.5),(1.3,-6),(1.5,-4.0),(1.7,2.0),(1.9,-2.5),(2.1,4.5),(2.3,-1.5),(2.5,3.5),(2.7,-2.0),(2.9,2.8),(3.1,-2.5),(3.3,3.0),(3.5,-2.0),(3.7,3.1),(3.9,-1.9),(4.1,3.0),(4.3,-2.0),(4.5,2.8),(4.7,-2.1),(4.9,2.6),(5.1,-2.0),(5.3,2.4),(5.5,-2.0),(5.7,2.2),(5.9,-2.1),(6.1,2.0),(6.3,-1.9),(6.5,1.8),(6.7,-1.9),(6.9,1.6),(7.1,-1.8),(7.3,1.5),(7.5,-1.9),(7.7,1.4),(7.9,-1.8),(8.1,1.3),(8.3,-1.8),(8.5,1.2),(8.7,-1.7),(8.9,1.1),(9.1,-1.6),(9.3,1.0),(9.5,-1.6),(9.7,0.9),(9.9,-1.5),(10.1,0.9),(10.3,-1.4),(10.5,0.9),(10.7,-1.4),(10.9,1.0),(11.1,-1.3),(11.3,1.0),(11.5,-1.3),(11.7,1.0),(11.9,-1.2),(12.1,1.1),(12.3,-1.2),(12.5,1.0),(12.7,-1.1),(12.9,1.0),(13.1,-1.0),(13.3,1.0),(13.5,-1.0),(13.7,0.9),(13.9,-0.9),(14.1,1.0),(14.3,-0.9),(14.5,0.9),(14.7,-0.8),(14.9,0.8),(15.1,-0.8),(15.3,0.8),(15.5,-0.7),(15.7,0.7),(15.9,-0.7),(16.1,0.7),(16.3,-0.6),(16.5,0.7),(16.7,-0.6),(16.9,0.6),(17.1,-0.6),(17.3,0.6),(17.5,-0.5),(17.7,0.6),(17.9,-0.5),(18.1,0.5),(18.3,-0.5),(18.5,0.5),(18.7,-0.5),(18.9,0.5),(19.1,-0.4),(19.3,0.4),(19.6,-0.4),(19.9,0.4),(20.2,-0.4),(20.5,0.4),(20.8,-0.3),(21.1,0.4),(21.4,-0.3),(21.7,0.3),(22.0,-0.3),(22.3,0.3),(22.6,-0.3),(22.9,0.3),(23.2,-0.2),(23.5,0.3),(23.8,-0.2),(24.1,0.2),(24.4,-0.2),(24.7,0.2),(25.0,0.0),(25.5,0.4),(26.0,0.5),(26.5,0.2),(27.0,0.0),(27.5,-0.3),(28.0,-0.5),(28.5,-0.8),(29.0,-1.3),(29.5,-1.9),(29.9,-1.2),(30.4,0.0),(31.0,0.2),(31.6,0.1),(32.2,0.4),(32.8,0.5),(33.4,0.6),(34.0,0.7),(34.6,0.7),(35.2,0.8),(35.8,0.8),(36.4,0.6),(36.9,-0.2),(37.4,-0.8),(37.9,-1.5),(38.4,-1.9),(38.7,-2.1),(39.1,-1.5),(39.5,-0.6),(40.0,0.0),(40.6,0.3),(41.2,0.5),(41.8,0.7),(42.5,0.8),(43.2,0.6),(43.9,0.3),(44.6,0.2),(45.3,0.0),(46.0,0.1),(46.6,-0.1),(47.2,0.1),(47.8,-0.1),(48.4,0.2),(49.0,0.0),(49.6,0.1),(50.2,-0.1),(50.8,0.1),(51.4,-0.1),(52.0,0.2),(52.6,0.0),(53.2,0.1),(53.8,-0.1),(54.4,0.2),(55,0.1)]
desc90_pitch_smc = [(0,0),(0.1,1.2),(0.2,2.07),(0.4,1.5),(0.6,1.0),(0.9,0.2),(1.2,-0.5),(1.6,-1.0),(1.9,-1.16),(2.3,-1.36),(2.6,-1.4),(2.9,-1.2),(3.2,-0.8),(3.5,-0.6),(3.8,-0.4),(4.1,0.2),(4.4,0.45),(4.8,0.6),(5.2,0.5),(5.6,0.5),(6.0,0.4),(6.5,0.3),(7.0,0.2),(7.5,0.1),(8.0,0.0),(8.5,0.2),(9.0,0.1),(9.5,0.2),(10,0.0),(11,0.1),(12,0.0),(13,0.1),(14,-0.1),(15,0.1),(16,0.0),(17,0.1),(18,-0.1),(19,0.1),(20,0.0),(21,0.1),(22,-0.1),(23,0.0),(24,-0.2),(25,0.0),(25.6,0.3),(26.2,0.3),(26.8,0.6),(27.4,1.0),(27.7,1.07),(28.1,0.3),(28.6,-0.5),(29.1,-1.0),(29.7,-1.26),(30.2,-0.8),(30.6,-0.3),(31.1,1.0),(31.6,1.9),(32.2,2.23),(32.7,1.8),(33.2,0.9),(33.8,0.4),(34.4,0.0),(35.0,-0.8),(35.6,-1.5),(36.1,-2.2),(36.5,-2.5),(36.9,-2.1),(37.4,-1.2),(37.9,0.5),(38.3,1.8),(38.7,2.1),(39.2,1.9),(39.6,1.5),(40.1,0.6),(40.6,0.2),(41.1,0.5),(41.8,0.5),(42.5,0.3),(43.2,0.0),(43.8,-0.3),(44.3,-0.5),(44.9,-0.4),(45.5,-0.3),(46.1,-0.4),(46.7,-0.2),(47.3,-0.3),(47.9,-0.1),(48.5,-0.2),(49.1,0.0),(49.7,-0.1),(50.3,0.1),(50.9,-0.1),(51.5,0.0),(52.1,-0.2),(52.7,-0.4),(53.3,-0.5),(53.7,-0.58),(54.2,-0.3),(54.6,-0.4),(55,-0.2)]
desc90_yaw_smc = [(0,0),(0.1,-4.0),(0.25,-8.1),(0.4,-6.0),(0.6,-3.0),(0.8,-1.0),(1.0,0.0),(1.3,1.5),(1.6,3.0),(1.9,4.8),(2.1,5.0),(2.24,5.56),(2.45,4.2),(2.65,4.8),(2.9,3.8),(3.2,2.5),(3.5,0.5),(3.8,-1.0),(4.1,-1.8),(4.4,-2.2),(4.7,-2.1),(5.0,-2.45),(5.3,-2.0),(5.6,-1.5),(6.0,-0.9),(6.4,-0.5),(6.8,-0.1),(7.2,0.2),(7.6,0.0),(8.0,0.3),(8.4,0.1),(8.8,0.3),(9.2,-0.1),(9.6,0.2),(10.0,0.0),(10.4,0.2),(10.8,-0.1),(11.2,0.1),(11.6,-0.1),(12.0,0.2),(12.4,-0.1),(12.8,0.1),(13.2,-0.2),(13.6,0.1),(14.0,-0.1),(14.4,0.1),(14.8,-0.1),(15.2,0.2),(15.6,-0.1),(16.0,0.1),(16.4,-0.1),(16.8,0.1),(17.2,0.0),(17.6,0.2),(18.0,-0.1),(18.4,0.1),(18.8,0.0),(19.2,0.2),(19.6,-0.1),(20.0,0.1),(20.4,0.0),(20.8,0.2),(21.2,-0.1),(21.6,0.1),(22.0,0.0),(22.4,0.1),(22.8,-0.1),(23.2,0.1),(23.6,-0.1),(24.0,0.1),(24.4,0.0),(24.8,0.1),(25.2,0.0),(25.7,0.3),(26.2,0.5),(26.6,0.2),(27.0,-0.6),(27.5,-1.26),(27.9,-0.8),(28.3,0.2),(28.7,0.6),(29.1,0.4),(29.6,-0.2),(30.2,-0.5),(30.8,-0.7),(31.5,-0.78),(32.2,-0.6),(32.8,-0.4),(33.4,0.0),(34.0,0.5),(34.6,0.9),(35.2,1.07),(35.8,1.0),(36.4,0.9),(37.0,1.1),(37.6,1.45),(37.95,0.3),(38.3,-0.87),(38.8,-0.6),(39.4,-0.1),(40.1,0.4),(40.8,0.7),(41.5,0.78),(42.2,0.5),(42.9,0.2),(43.6,0.0),(44.3,-0.1),(45.0,0.1),(45.6,-0.1),(46.2,0.1),(46.8,0.0),(47.4,0.1),(48.0,-0.1),(48.6,0.1),(49.2,0.0),(49.8,0.1),(50.4,-0.1),(51.0,0.1),(51.6,0.0),(52.2,0.1),(52.8,-0.1),(53.4,0.1),(54.0,-0.1),(54.6,0.1),(55,0.0)]

panels = [
    [[asc20_pitch_hinf, asc20_yaw_hinf, asc20_pitch_smc, asc20_yaw_smc],
     [asc50_pitch_hinf, asc50_yaw_hinf, asc50_pitch_smc, asc50_yaw_smc],
     [asc90_pitch_hinf, asc90_yaw_hinf, asc90_pitch_smc, asc90_yaw_smc]],
    [[desc20_pitch_hinf, desc20_yaw_hinf, desc20_pitch_smc, desc20_yaw_smc],
     [desc50_pitch_hinf, desc50_yaw_hinf, desc50_pitch_smc, desc50_yaw_smc],
     [desc90_pitch_hinf, desc90_yaw_hinf, desc90_pitch_smc, desc90_yaw_smc]],
]

# ---------------- styling (visible page area: about 4100 x 2254 CSS px) ----------------
series_colors = [BLUE, ORANGE, BLUE, ORANGE]
series_dash = ["28 24", "28 24", "solid", "solid"]
FRAME_W, FRAME_H = 1180, 788
TICK_X = 12      # length of x ticks (vertical)
TICK_Y = 11      # length of y ticks (horizontal)
col_left = [198, 150, 146]
col_right = [16, 16, 18]
row_top = [183, 158]
row_bottom = [110, 205]
X_MIN, X_MAX = 0, 55
LW = 7
AXW = 2.4
GUST_DX = 43.0   # px from the gust line to the label baseline
GUST_DY = 14.0   # px from the frame bottom to the label start


def style_axis(ax, ticks, labels, tick_len):
    ax.ticker = FixedTicker(ticks=ticks)
    ax.major_label_overrides = {t: l for t, l in zip(ticks, labels)}
    ax.major_tick_in = tick_len
    ax.major_tick_out = 0
    ax.minor_tick_line_color = None
    ax.axis_line_color = INK
    ax.axis_line_width = AXW
    ax.major_tick_line_color = INK
    ax.major_tick_line_width = AXW
    ax.major_label_text_font = FONT
    ax.major_label_text_color = INK
    ax.major_label_text_font_size = "60px"
    ax.axis_label_text_font = FONT
    ax.axis_label_text_font_style = "normal"
    ax.axis_label_text_color = INK


def make_panel(r, c):
    if r == 0:
        ymin, ymax, yt, yl = -20, 20, asc_y_ticks, asc_y_tick_labels
    else:
        ymin, ymax, yt, yl = -10, 10, desc_y_ticks, desc_y_tick_labels
    p = figure(output_backend="svg", toolbar_location=None, title=None,
               width=col_left[c] + FRAME_W + col_right[c],
               height=row_top[r] + FRAME_H + row_bottom[r],
               x_range=Range1d(X_MIN, X_MAX), y_range=Range1d(ymin, ymax),
               min_border_left=col_left[c], min_border_right=col_right[c],
               min_border_top=row_top[r], min_border_bottom=row_bottom[r],
               background_fill_color="white", border_fill_color="white",
               outline_line_color=INK, outline_line_width=AXW)
    style_axis(p.xaxis[0], x_ticks, x_tick_labels, TICK_X)
    style_axis(p.yaxis[0], yt, yl, TICK_Y)
    p.xaxis.major_label_standoff = 28
    p.yaxis.major_label_standoff = 21
    p.xaxis.axis_label_text_font_size = "66px"
    p.yaxis.axis_label_text_font_size = "68px"
    if c == 0:
        p.yaxis.axis_label = y_label
        p.yaxis.axis_label_standoff = 5
    if r == 1:
        p.xaxis.axis_label = x_label
        p.xaxis.axis_label_standoff = 10

    p.xgrid.ticker = FixedTicker(ticks=x_ticks)
    p.ygrid.ticker = FixedTicker(ticks=yt)
    for g in (p.xgrid, p.ygrid):
        g.grid_line_color = "#DCDCDC"
        g.grid_line_width = AXW

    # mirrored inward ticks on the top and right edges of the box
    dy = (ymax - ymin) * TICK_X / FRAME_H
    dx = (X_MAX - X_MIN) * TICK_Y / FRAME_W
    p.segment(x0=x_ticks, y0=[ymax] * len(x_ticks), x1=x_ticks, y1=[ymax - dy] * len(x_ticks),
              line_color=INK, line_width=AXW)
    p.segment(x0=[X_MAX] * len(yt), y0=yt, x1=[X_MAX - dx] * len(yt), y1=yt,
              line_color=INK, line_width=AXW)

    if r == 0:
        p.add_layout(Title(text=panel_titles[c], align="center", text_font=FONT,
                           text_font_size="60px", text_font_style="bold",
                           text_color="black", standoff=10), "above")
        if c == 1:
            p.add_layout(Title(text=row_titles[0], align="center", text_font=FONT,
                               text_font_size="73px", text_font_style="bold",
                               text_color="black", standoff=0), "above")
    elif c == 1:
        p.add_layout(Title(text=row_titles[1], align="center", text_font=FONT,
                           text_font_size="73px", text_font_style="bold",
                           text_color="black", standoff=7), "above")

    renderers = []
    for k, data in enumerate(panels[r][c]):
        t = [pt[0] for pt in data]
        v = [pt[1] for pt in data]
        rr = p.line(t, v, line_color=series_colors[k], line_width=LW,
                    line_dash=series_dash[k], line_join="round")
        renderers.append(rr)

    p.add_layout(Span(location=gust_time, dimension="height", line_color="#404040",
                      line_width=6.5, line_dash="28 29"))
    p.add_layout(Label(x=gust_time - (X_MAX - X_MIN) * GUST_DX / FRAME_W,
                       y=ymin + (ymax - ymin) * GUST_DY / FRAME_H,
                       text="Gust start", angle=math.pi / 2, text_font=FONT,
                       text_font_size="63px", text_color="black",
                       text_align="left", text_baseline="alphabetic"))

    if r == 0 and c == 2:
        items = [LegendItem(label=series_names[k], renderers=[renderers[k]]) for k in range(4)]
        leg = Legend(items=items, location=(709, 43), label_text_font=FONT,
                     label_text_font_size="54px", label_text_color="black",
                     glyph_width=139, glyph_height=66, label_height=66,
                     label_standoff=10, spacing=0, padding=6, margin=0,
                     border_line_color=INK, border_line_width=AXW,
                     background_fill_color="white", background_fill_alpha=1.0)
        p.add_layout(leg)
    return p


rows = []
for r in range(2):
    rows.append(row(*[make_panel(r, c) for c in range(3)], spacing=0))
layout = column(*rows, spacing=0)

open("out.html", "w").write(file_html(layout, INLINE, title="Attitude rates"))
